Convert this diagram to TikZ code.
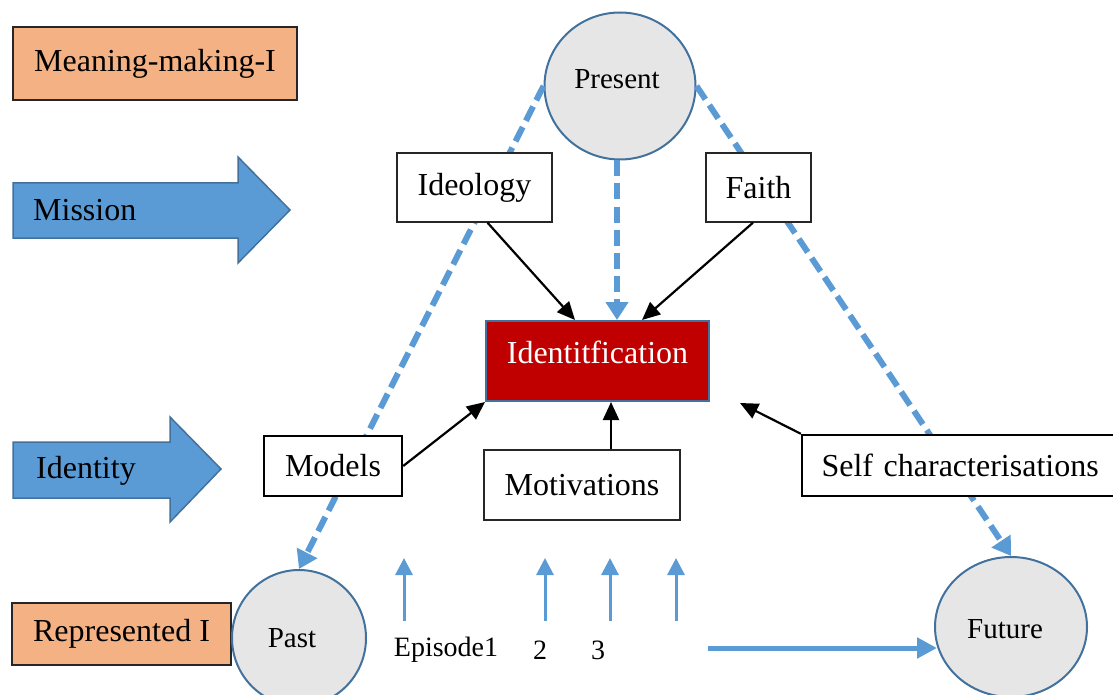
\documentclass[tikz,border=0pt]{standalone}
\usepackage{fontspec}
\setmainfont{Liberation Serif}
\usetikzlibrary{shapes.geometric,arrows.meta,calc}
\definecolor{orng}{HTML}{F4B183}
\definecolor{blfill}{HTML}{5B9BD5}
\definecolor{bledge}{HTML}{41719C}
\definecolor{circfill}{HTML}{E6E6E6}
\definecolor{redbox}{HTML}{C00000}
\newcommand\fbig{\fontsize{32}{36}\selectfont}
\newcommand\fcirc{\fontsize{29}{33}\selectfont}
\newcommand\fepi{\fontsize{28}{32}\selectfont}
\begin{document}
\begin{tikzpicture}[x=1pt,y=-1pt,
  plainbox/.style={draw=black!85, fill=white, line width=1.3pt, inner sep=0pt, font=\fbig},
  thickbox/.style={draw=black, fill=white, line width=2.4pt, inner sep=0pt, font=\fbig},
  orangebox/.style={draw=black!85, fill=orng, line width=2.4pt, inner sep=0pt, font=\fbig},
  timecirc/.style={ellipse, draw=bledge, fill=circfill, line width=2pt, inner sep=0pt},
  bigarrow/.style={draw=bledge, fill=blfill, line width=1.5pt, line join=miter},
  link/.style={draw=black, line width=2.2pt, -{Triangle[length=18pt,width=16pt]}},
  dashlink/.style={draw=blfill, line width=6pt, dash pattern=on 16pt off 7pt, -{Triangle[length=18pt,width=22pt]}},
  upflow/.style={draw=blfill, line width=3pt, -{Triangle[length=17pt,width=17pt]}},
]
\useasboundingbox (0,0) rectangle (1113,695);

% big blue arrows
\draw[bigarrow] (13,183) -- (238,183) -- (238,157) -- (290,210) -- (238,263) -- (238,238) -- (13,238) -- cycle;
\draw[bigarrow] (13,442) -- (170,442) -- (170,417) -- (221,469) -- (170,522) -- (170,498) -- (13,498) -- cycle;
\node[anchor=west, font=\fbig, inner sep=0pt] (mission) at (33,210) {Mission};
\node[anchor=west, font=\fbig, inner sep=0pt] (identity) at (36,471) {Identity};

% orange labels
\node[orangebox, minimum width=284pt, minimum height=73pt] (meaning) at (155,63.5) {Meaning-making-I};
\node[orangebox, minimum width=219pt, minimum height=62pt] (represented) at (121.5,634) {Represented I};

% time circles
\node[timecirc, minimum width=151pt, minimum height=147pt,
      label={[font=\fcirc, yshift=7pt, xshift=-3pt]center:Present}] (present) at (620,86) {};
\node[timecirc, minimum width=134pt, minimum height=136pt,
      label={[font=\fcirc, xshift=-7pt]center:Past}] (past) at (299,638) {};
\node[timecirc, minimum width=152pt, minimum height=140pt,
      label={[font=\fcirc, xshift=-6pt, yshift=-2pt]center:Future}] (future) at (1011,627) {};

% central box
\node[draw=bledge, fill=redbox, line width=2pt, inner sep=0pt, font=\fbig, text=white,
      minimum width=223pt, minimum height=80pt, text height=22pt, text depth=18pt] (ident) at (597.5,361) {Identitfication};

% dashed triangle (behind the white boxes)
\draw[dashlink] (present.west) -- (past.north);
\draw[dashlink] (present.east) -- (future.north);
\draw[dashlink] ([xshift=-3pt]present.south) -- ([xshift=19.5pt]ident.north);

% white boxes drawn over the dashed lines
\node[plainbox, minimum width=155pt, minimum height=69pt] (ideology) at (474.5,187.5) {Ideology};
\node[plainbox, minimum width=105pt, minimum height=69pt] (faith) at (758.5,187.5) {Faith};
\node[thickbox, minimum width=138pt, minimum height=60pt] (models) at (333,466) {Models};
\node[plainbox, minimum width=196pt, minimum height=70pt] (motiv) at (582,485) {Motivations};
\node[thickbox, minimum width=323pt, minimum height=61pt, text width=300pt, align=left] (selfchar) at (963.5,465.5) {\hspace*{8pt}Self characterisations};

% black arrows
\draw[link] ([xshift=13pt]ideology.south) -- ([xshift=-22.5pt]ident.north);
\draw[link] ([xshift=-5.5pt]faith.south) -- ([xshift=44.5pt]ident.north);
\draw[link] (models.east) -- (ident.south west);
\draw[link] ([xshift=29pt]motiv.north) -- ([xshift=13.5pt]ident.south);
\coordinate (scend) at (740,403);
\draw[link] (selfchar.north west) -- (scend);

% episodes
\coordinate (e1a) at (404,621); \coordinate (e1b) at (404,558);
\coordinate (e2a) at (545,621); \coordinate (e2b) at (545,558);
\coordinate (e3a) at (610,621); \coordinate (e3b) at (610,558);
\coordinate (e4a) at (676,621); \coordinate (e4b) at (676,558);
\draw[upflow] (e1a) -- (e1b);
\draw[upflow] (e2a) -- (e2b);
\draw[upflow] (e3a) -- (e3b);
\draw[upflow] (e4a) -- (e4b);
\node[font=\fepi, inner sep=0pt] (ep1) at (446,650) {Episode1};
\node[font=\fepi, inner sep=0pt] (ep2) at (540,650) {2};
\node[font=\fepi, inner sep=0pt] (ep3) at (598,650) {3};

\coordinate (hstart) at (708,648);
\coordinate (hend) at (937,648);
\draw[draw=blfill, line width=5pt, -{Triangle[length=20pt,width=20pt]}] (hstart) -- (hend);
\end{tikzpicture}
\end{document}
